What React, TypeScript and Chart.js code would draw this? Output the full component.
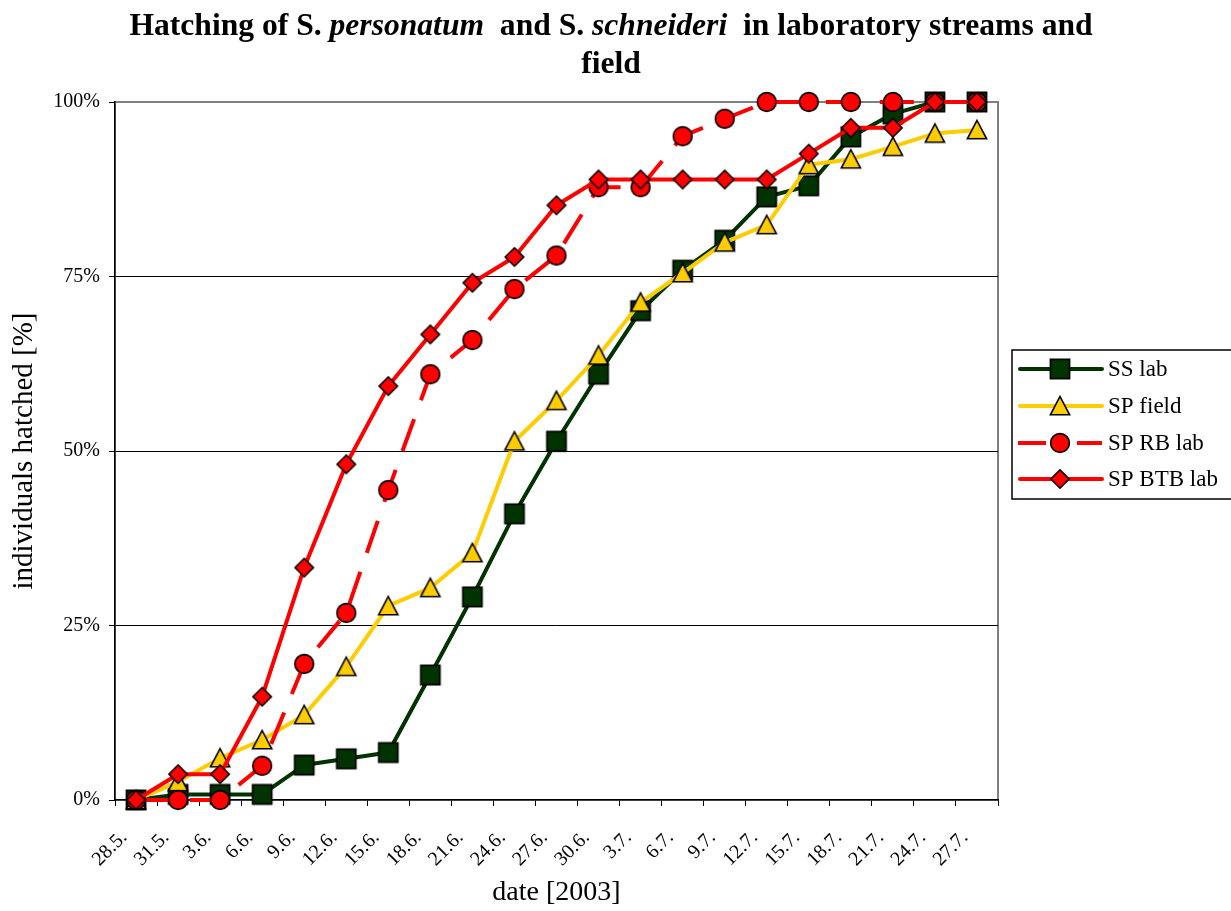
import React, { useEffect, useRef } from 'react';
import { Chart, registerables } from 'chart.js';

Chart.register(...registerables);

const dates = ['28.5.', '31.5.', '3.6.', '6.6.', '9.6.', '12.6.', '15.6.', '18.6.', '21.6.', '24.6.', '27.6.', '30.6.', '3.7.', '6.7.', '9.7.', '12.7.', '15.7.', '18.7.', '21.7.', '24.7.', '27.7.'];

const ssLab = [0, 0.8, 0.8, 0.8, 5.0, 5.9, 6.8, 17.9, 29.1, 41.0, 51.4, 61.0, 70.1, 75.9, 80.2, 86.4, 88.0, 95.0, 98.3, 100, 100];
const spField = [0, 2.6, 6.0, 8.6, 12.2, 19.1, 27.8, 30.4, 35.4, 51.4, 57.2, 63.7, 71.3, 75.5, 79.9, 82.4, 91.0, 91.8, 93.6, 95.5, 96.0];
const spRbLab = [0, 0, 0, 4.9, 19.5, 26.8, 44.4, 61.0, 65.9, 73.2, 78.0, 87.8, 87.8, 95.1, 97.6, 100, 100, 100, 100, 100, 100];
const spBtbLab = [0, 3.7, 3.7, 14.8, 33.3, 48.1, 59.3, 66.7, 74.1, 77.8, 85.2, 88.9, 88.9, 88.9, 88.9, 88.9, 92.6, 96.3, 96.3, 100, 100];

const yTicks = [0, 25, 50, 75, 100];

const seriesNames = ['SS lab', 'SP field', 'SP RB lab', 'SP BTB lab'];

const FONT = "'Liberation Serif', 'Times New Roman', serif";

type MarkerKind = 'square' | 'triangle' | 'circle' | 'diamond';

function makeMarker(kind: MarkerKind): HTMLCanvasElement {
  const c = document.createElement('canvas');
  c.width = 24;
  c.height = 24;
  const ctx = c.getContext('2d')!;
  ctx.lineWidth = 1.6;
  ctx.strokeStyle = '#000';
  ctx.lineJoin = 'miter';
  ctx.beginPath();
  if (kind === 'square') {
    ctx.fillStyle = '#003300';
    ctx.rect(2.4, 2.4, 19.2, 19.2);
  } else if (kind === 'triangle') {
    ctx.fillStyle = '#FFCC00';
    ctx.moveTo(12, 2.5);
    ctx.lineTo(21.6, 20.8);
    ctx.lineTo(2.4, 20.8);
    ctx.closePath();
  } else if (kind === 'circle') {
    ctx.fillStyle = '#FF0000';
    ctx.arc(12, 12, 9.4, 0, Math.PI * 2);
  } else {
    ctx.fillStyle = '#FF0000';
    ctx.moveTo(12, 2.8);
    ctx.lineTo(21.2, 12);
    ctx.lineTo(12, 21.2);
    ctx.lineTo(2.8, 12);
    ctx.closePath();
  }
  ctx.fill();
  ctx.stroke();
  return c;
}

export default function App() {
  const ref = useRef<HTMLCanvasElement | null>(null);

  useEffect(() => {
    if (!ref.current) return;
    const markers = {
      square: makeMarker('square'),
      triangle: makeMarker('triangle'),
      circle: makeMarker('circle'),
      diamond: makeMarker('diamond'),
    };

    const legendDefs = [
      { name: seriesNames[0], color: '#003300', dash: [] as number[], marker: markers.square },
      { name: seriesNames[1], color: '#FFCC00', dash: [] as number[], marker: markers.triangle },
      { name: seriesNames[2], color: '#FF0000', dash: [28, 31], marker: markers.circle },
      { name: seriesNames[3], color: '#FF0000', dash: [] as number[], marker: markers.diamond },
    ];

    const framePlugin = {
      id: 'frame',
      beforeDraw(chart: any) {
        const { ctx, chartArea } = chart;
        ctx.save();
        ctx.fillStyle = '#fff';
        ctx.fillRect(0, 0, chart.width, chart.height);
        ctx.strokeStyle = '#808080';
        ctx.lineWidth = 2;
        ctx.strokeRect(chartArea.left, chartArea.top, chartArea.right - chartArea.left, chartArea.bottom - chartArea.top);
        ctx.restore();
      },
    };

    const titlePlugin = {
      id: 'customTitle',
      afterDraw(chart: any) {
        const { ctx } = chart;
        ctx.save();
        ctx.fillStyle = '#000';
        ctx.textBaseline = 'middle';
        ctx.textAlign = 'left';
        const segs = [
          { t: 'Hatching of S. ', i: false },
          { t: 'personatum', i: true },
          { t: '  and S. ', i: false },
          { t: 'schneideri', i: true },
          { t: '  in laboratory streams and', i: false },
        ];
        const fontFor = (i: boolean) => `${i ? 'italic ' : ''}bold 31.6px ${FONT}`;
        let total = 0;
        for (const s of segs) {
          ctx.font = fontFor(s.i);
          total += ctx.measureText(s.t).width;
        }
        const cx = 611;
        let x = cx - total / 2;
        for (const s of segs) {
          ctx.font = fontFor(s.i);
          ctx.fillText(s.t, x, 27);
          x += ctx.measureText(s.t).width;
        }
        ctx.font = fontFor(false);
        ctx.textAlign = 'center';
        ctx.fillText('field', cx, 65);
        ctx.restore();
      },
    };

    const legendPlugin = {
      id: 'customLegend',
      afterDraw(chart: any) {
        const { ctx } = chart;
        ctx.save();
        ctx.fillStyle = '#fff';
        ctx.fillRect(1012, 350, 230, 149);
        ctx.strokeStyle = '#000';
        ctx.lineWidth = 1.5;
        ctx.strokeRect(1012, 350, 230, 149);
        const rows = [369, 406, 443, 479];
        legendDefs.forEach((d, i) => {
          const y = rows[i];
          ctx.save();
          ctx.strokeStyle = d.color;
          ctx.lineWidth = 4;
          ctx.lineCap = d.dash.length ? 'butt' : 'round';
          ctx.setLineDash(d.dash);
          ctx.beginPath();
          ctx.moveTo(d.dash.length ? 1018 : 1020, y);
          ctx.lineTo(1102, y);
          ctx.stroke();
          ctx.restore();
          ctx.drawImage(d.marker, 1060 - 12, y - 12);
          ctx.fillStyle = '#000';
          ctx.font = `23px ${FONT}`;
          ctx.textBaseline = 'middle';
          ctx.textAlign = 'left';
          ctx.fillText(d.name, 1108, y + 1);
        });
        ctx.restore();
      },
    };

    const common = {
      borderWidth: 4,
      pointRadius: 10,
      pointHoverRadius: 10,
      tension: 0,
      clip: false as any,
      fill: false,
      borderJoinStyle: 'round' as const,
    };

    const chart = new Chart(ref.current, {
      type: 'line',
      data: {
        labels: dates,
        datasets: [
          { ...common, label: seriesNames[0], data: ssLab, borderColor: '#003300', pointStyle: markers.square as any, order: 4, borderCapStyle: 'round' },
          { ...common, label: seriesNames[1], data: spField, borderColor: '#FFCC00', pointStyle: markers.triangle as any, order: 3, borderCapStyle: 'round' },
          { ...common, label: seriesNames[2], data: spRbLab, borderColor: '#FF0000', pointStyle: markers.circle as any, order: 2, borderDash: [34, 20], borderCapStyle: 'butt' },
          { ...common, label: seriesNames[3], data: spBtbLab, borderColor: '#FF0000', pointStyle: markers.diamond as any, order: 1, borderCapStyle: 'round' },
        ],
      },
      options: {
        responsive: false,
        animation: false,
        events: [],
        layout: { padding: { top: 102, right: 233, left: 0, bottom: 0 } },
        plugins: {
          legend: { display: false },
          title: { display: false },
          tooltip: { enabled: false },
        },
        scales: {
          x: {
            type: 'category',
            offset: true,
            grid: {
              offset: true,
              drawOnChartArea: false,
              drawTicks: true,
              tickLength: 6,
              tickColor: '#000',
              color: '#000',
              lineWidth: 1,
            },
            border: { display: true, color: '#000', width: 1.5 },
            ticks: {
              autoSkip: false,
              minRotation: 45,
              maxRotation: 45,
              labelOffset: -12,
              padding: 20,
              color: '#000',
              font: { family: FONT, size: 20 },
            },
            title: {
              display: true,
              text: 'date [2003]',
              color: '#000',
              font: { family: FONT, size: 28 },
              padding: { top: 0, bottom: 2 },
            },
            afterFit(scale: any) {
              scale.height = 111;
            },
          },
          y: {
            type: 'linear',
            min: 0,
            max: 100,
            afterBuildTicks(scale: any) {
              scale.ticks = yTicks.map((v) => ({ value: v }));
            },
            grid: {
              color: (c: any) => (c.tick && (c.tick.value === 0 || c.tick.value === 100) ? 'rgba(0,0,0,0)' : '#000'),
              tickColor: '#000',
              tickLength: 6,
              lineWidth: 1,
            },
            border: { display: true, color: '#000', width: 1.5 },
            ticks: {
              padding: 9,
              color: '#000',
              font: { family: FONT, size: 20 },
              callback: (v: any) => `${v}%`,
            },
            title: {
              display: true,
              text: 'individuals hatched [%]',
              color: '#000',
              font: { family: FONT, size: 29 },
              padding: { top: 7, bottom: 0 },
            },
            afterFit(scale: any) {
              scale.width = 115;
            },
          },
        },
      },
      plugins: [framePlugin, titlePlugin, legendPlugin],
    });

    return () => chart.destroy();
  }, []);

  return (
    <div style={{ position: 'absolute', left: 0, top: 0, width: 1231, height: 911, background: '#fff' }}>
      <canvas ref={ref} width={1231} height={911} style={{ display: 'block', width: 1231, height: 911 }} />
    </div>
  );
}
